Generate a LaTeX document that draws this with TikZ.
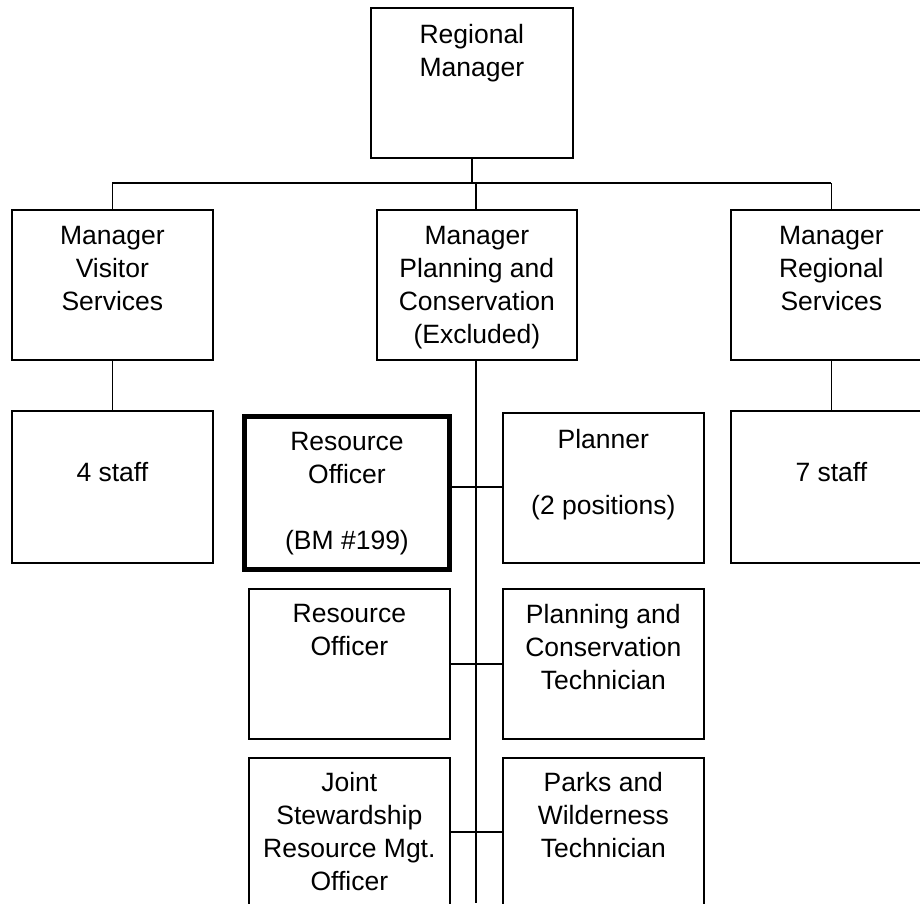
\documentclass[tikz,border=0pt]{standalone}
\usepackage{fontspec}
\setmainfont{Liberation Sans}
\usetikzlibrary{calc}
\begin{document}
\begin{tikzpicture}[x=1pt,y=-1pt,
  box/.style={draw=black,line width=1.7pt,rectangle,anchor=north west,inner sep=0pt},
  boldbox/.style={draw=black,line width=5pt,rectangle,anchor=north west,inner sep=0pt},
  txt/.style={anchor=north,inner sep=0pt,align=center,font=\fontsize{26.5}{33}\selectfont},
  conn/.style={line width=1.7pt},
  spine/.style={line width=2.6pt}]
\useasboundingbox (0,0) rectangle (920,903);
\clip (0,0) rectangle (920,903);
% boxes
\node[box,minimum width=202pt,minimum height=150pt] (rm) at (370,7) {};
\node[box,minimum width=201pt,minimum height=150pt] (vs) at (11,209) {};
\node[box,minimum width=200pt,minimum height=150pt] (pc) at (376,209) {};
\node[box,minimum width=201pt,minimum height=150pt] (rs) at (730,209) {};
\node[box,minimum width=201pt,minimum height=152pt] (s4) at (11,410) {};
\node[box,minimum width=201pt,minimum height=152pt] (s7) at (730,410) {};
\node[boldbox,minimum width=205pt,minimum height=153pt] (ro1) at (242,413.5) {};
\node[box,minimum width=201pt,minimum height=150pt] (pl) at (502,412) {};
\node[box,minimum width=201pt,minimum height=150pt] (ro2) at (248,588) {};
\node[box,minimum width=201pt,minimum height=150pt] (pct) at (502,588) {};
\node[box,minimum width=201pt,minimum height=170pt] (js) at (248,757) {};
\node[box,minimum width=201pt,minimum height=170pt] (pw) at (502,757) {};
% texts
\node[txt] (trm) at ($(rm.north)+(0,17)$) {Regional\\Manager};
\node[txt] (tvs) at ($(vs.north)+(0,17)$) {Manager\\Visitor\\Services};
\node[txt] (tpc) at ($(pc.north)+(0,17)$) {Manager\\Planning and\\Conservation\\(Excluded)};
\node[txt] (trs) at ($(rs.north)+(0,17)$) {Manager\\Regional\\Services};
\node[txt] (ts4) at ($(s4.north)+(0,52)$) {4 staff};
\node[txt] (ts7) at ($(s7.north)+(0,52)$) {7 staff};
\node[txt] (tro1) at ($(ro1.north)+(0,18.5)$) {Resource\\Officer\\\mbox{}\\(BM \#199)};
\node[txt] (tpl) at ($(pl.north)+(0,17)$) {Planner\\\mbox{}\\(2 positions)};
\node[txt] (tro2) at ($(ro2.north)+(0,16)$) {Resource\\Officer};
\node[txt] (tpct) at ($(pct.north)+(0,16)$) {Planning and\\Conservation\\Technician};
\node[txt] (tjs) at ($(js.north)+(0,15)$) {Joint\\Stewardship\\Resource Mgt.\\Officer};
\node[txt] (tpw) at ($(pw.north)+(0,15)$) {Parks and\\Wilderness\\Technician};
% connectors
\coordinate (bar) at (471,183);
\coordinate (barL) at (vs.north |- bar);
\coordinate (barR) at (rs.north |- bar);
\coordinate (barM) at (476,183);
\coordinate (spEnd) at (476,903);
\draw[conn] (rm.south) -- (rm.south |- bar);
\draw[conn] (barL) -- (barR);
\draw[conn] (barL) -- (vs.north);
\draw[conn] (barR) -- (rs.north);
\draw[conn] (barM) -- (barM |- pc.north);
\draw[conn] (vs.south) -- (s4.north);
\draw[conn] (rs.south) -- (s7.north);
\draw[spine] (pc.south -| barM) -- (spEnd);
\coordinate (r1) at (0,487);
\coordinate (r2) at (0,664);
\coordinate (r3) at (0,832);
\draw[conn] (ro1.east |- r1) -- (pl.west |- r1);
\draw[conn] (ro2.east |- r2) -- (pct.west |- r2);
\draw[conn] (js.east |- r3) -- (pw.west |- r3);
\end{tikzpicture}
\end{document}
